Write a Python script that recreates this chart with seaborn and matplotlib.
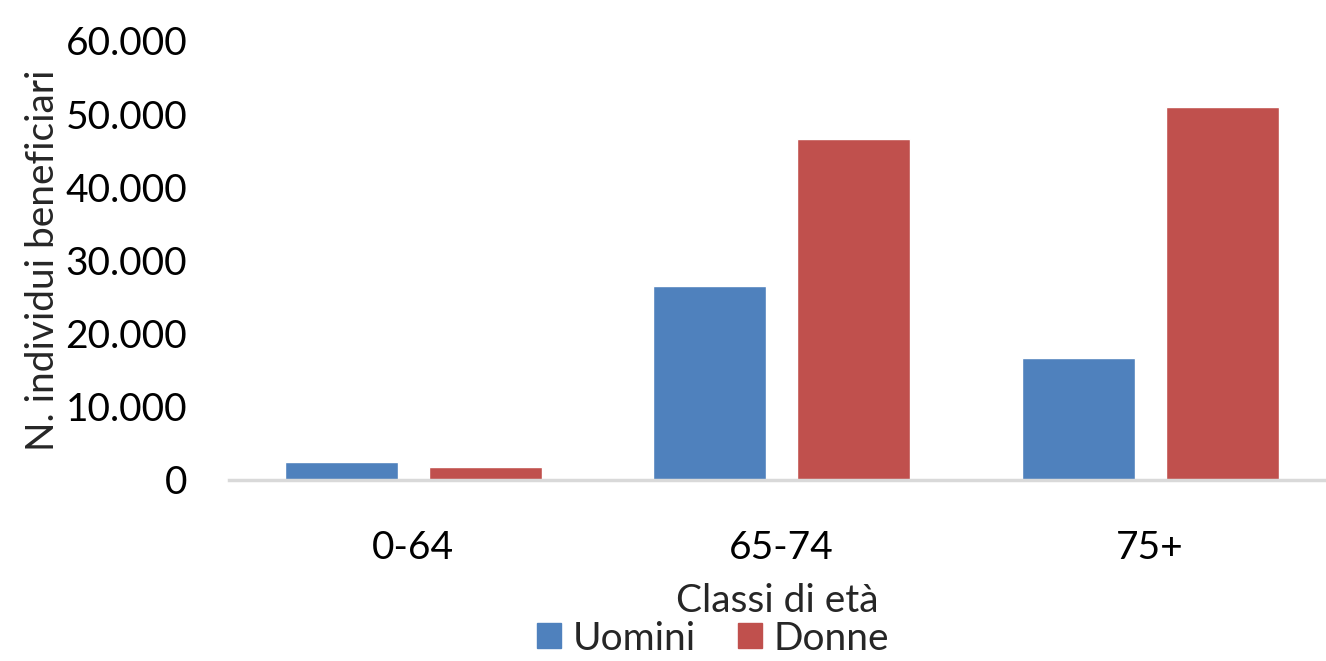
import numpy as np
import pandas as pd
import seaborn as sns
import matplotlib.pyplot as plt
from matplotlib.ticker import FuncFormatter
from matplotlib.patches import Patch

classi = ["0-64", "65-74", "75+"]
uomini = [2500, 26500, 16700]
donne = [1800, 46600, 51000]
serie = ["Uomini", "Donne"]
colori = ["#4F81BD", "#C0504D"]

df = pd.DataFrame({
    "classe": classi * 2,
    "sesso": ["Uomini"] * 3 + ["Donne"] * 3,
    "valore": uomini + donne,
})

sns.set_style("white")
plt.rcParams["font.family"] = ["Lato", "DejaVu Sans"]

fig = plt.figure(figsize=(13.26, 6.61), dpi=100)
ax = fig.add_axes([0.1727, 0.274, 0.8273, 0.664])

sns.barplot(data=df, x="classe", y="valore", hue="sesso", order=classi,
            hue_order=serie, palette=colori, width=0.7815, gap=0.215,
            saturation=1, legend=False, ax=ax)

ax.set_ylim(0, 60000)
ax.set_xlim(-0.5, 2.477)
ax.set_yticks(np.arange(0, 60001, 10000))
ax.yaxis.set_major_formatter(FuncFormatter(lambda v, p: f"{int(v):,}".replace(",", ".")))
ax.tick_params(axis="both", length=0, labelsize=28, colors="black")
ax.tick_params(axis="x", pad=36)
ax.tick_params(axis="y", pad=30)

for s in ["top", "right", "left"]:
    ax.spines[s].set_visible(False)
ax.spines["bottom"].set_color("#d9d9d9")
ax.spines["bottom"].set_linewidth(2.5)

ax.set_xlabel("Classi di età", fontsize=28, labelpad=12)
ax.set_ylabel("N. individui beneficiari", fontsize=28, labelpad=3)

handles = [Patch(color=c, label=l) for c, l in zip(colori, serie)]
fig.legend(handles=handles, loc="center", bbox_to_anchor=(713 / 1326, 0.034),
           ncol=2, frameon=False, fontsize=28, handlelength=0.6, handleheight=0.6,
           handletextpad=0.3, columnspacing=1.1, borderpad=0.2)

fig.savefig("out.png", dpi=100)
